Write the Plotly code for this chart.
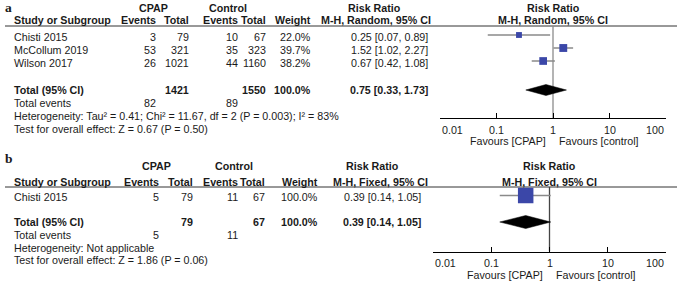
import math
import plotly.graph_objects as go

W, H = 677, 282

# ---------------- data: panel a ----------------
studies_a = ["Chisti 2015", "McCollum 2019", "Wilson 2017"]
cpap_events_a = [3, 53, 26]
cpap_total_a = [79, 321, 1021]
ctrl_events_a = [10, 35, 44]
ctrl_total_a = [67, 323, 1160]
weight_a = [22.0, 39.7, 38.2]
rr_a = [0.25, 1.52, 0.67]
lo_a = [0.07, 1.02, 0.42]
hi_a = [0.89, 2.27, 1.08]
sum_cpap_total_a, sum_ctrl_total_a = 1421, 1550
sum_cpap_events_a, sum_ctrl_events_a = 82, 89
total_weight_a = 100.0
pooled_a = [0.75, 0.33, 1.73]
method_a = "M-H, Random, 95% CI"
het_a = "Heterogeneity: Tau² = 0.41; Chi² = 11.67, df = 2 (P = 0.003); I² = 83%"
test_a = "Test for overall effect: Z = 0.67 (P = 0.50)"

# ---------------- data: panel b ----------------
studies_b = ["Chisti 2015"]
cpap_events_b = [5]
cpap_total_b = [79]
ctrl_events_b = [11]
ctrl_total_b = [67]
weight_b = [100.0]
rr_b = [0.39]
lo_b = [0.14]
hi_b = [1.05]
sum_cpap_total_b, sum_ctrl_total_b = 79, 67
sum_cpap_events_b, sum_ctrl_events_b = 5, 11
total_weight_b = 100.0
pooled_b = [0.39, 0.14, 1.05]
method_b = "M-H, Fixed, 95% CI"
het_b = "Heterogeneity: Not applicable"
test_b = "Test for overall effect: Z = 1.86 (P = 0.06)"

tick_vals = [0.01, 0.1, 1, 10, 100]
tick_text = ["0.01", "0.1", "1", "10", "100"]

FONT = "Liberation Sans, Arial, sans-serif"
FS = 10.7
TXT = "#1a1a1a"
BLUE = "#3b47a8"
GREY = "#8a8a8a"

fig = go.Figure()
annotations = []


def txt(x, y, s, anchor="left", bold=False, xref="x", size=FS, family=FONT, xshift=0):
    annotations.append(dict(
        x=x, y=y, xref=xref, yref="y", text=("<b>%s</b>" % s) if bold else s,
        showarrow=False, xanchor=anchor, yanchor="middle", xshift=xshift,
        font=dict(family=family, size=size, color=TXT)))


def fmt_ci(v):
    return "%.2f [%.2f, %.2f]" % (v[0], v[1], v[2])


def panel(idx, label, studies, ce, ct, ke, kt, wt, rr, lo, hi, sums, pooled,
          method, het, test, P, null_color, sq_k, dia_h):
    xa, ya = "x%d" % idx, "y%d" % idx
    # labels / headers
    txt(3, P["label_y"], label, bold=True, size=13.5, family="Liberation Serif, Times New Roman, serif")
    txt(P["cpap_c"], P["h1"], "CPAP", "center", True)
    txt(P["ctrl_c"], P["h1"], "Control", "center", True)
    txt(P["rr_c"], P["h1"], "Risk Ratio", "center", True)
    txt(0, P["h1"], "Risk Ratio", "center", True, xref=xa)
    txt(12, P["h2"], "Study or Subgroup", "left", True)
    txt(P["ev1"], P["h2"], "Events", "right", True)
    txt(P["tot1"], P["h2"], "Total", "right", True)
    txt(P["ev2"], P["h2"], "Events", "right", True)
    txt(P["tot2"], P["h2"], "Total", "right", True)
    txt(P["wt"], P["h2"], "Weight", "right", True)
    txt(P["mh"], P["h2"], method, "right", True)
    txt(0, P["h2"], method, "center", True, xref=xa)
    fig.add_trace(go.Scatter(x=[5, W], y=[P["line"], P["line"]], mode="lines",
                             line=dict(color="#333333", width=1), xaxis="x", yaxis="y",
                             hoverinfo="skip"))
    rows_y = [P["row0"] + i * P["rowh"] for i in range(len(studies))]
    for i, s in enumerate(studies):
        y = rows_y[i]
        txt(12, y, s)
        txt(P["ev1"], y, str(ce[i]), "right")
        txt(P["tot1"], y, str(ct[i]), "right")
        txt(P["ev2"], y, str(ke[i]), "right")
        txt(P["tot2"], y, str(kt[i]), "right")
        txt(P["wt"], y, "%.1f%%" % wt[i], "right")
        txt(P["ci"], y, fmt_ci([rr[i], lo[i], hi[i]]), "right")
    ty = P["total"]
    txt(12, ty, "Total (95% CI)", "left", True)
    txt(P["tot1"], ty, str(sums[0]), "right", True)
    txt(P["tot2"], ty, str(sums[1]), "right", True)
    txt(P["wt"], ty, "%.1f%%" % sums[4], "right", True)
    txt(P["ci"], ty, fmt_ci(pooled), "right", True)
    txt(12, P["events"], "Total events")
    txt(P["ev1"], P["events"], str(sums[2]), "right")
    txt(P["ev2"], P["events"], str(sums[3]), "right")
    txt(12, P["het"], het)
    txt(12, P["test"], test)
    # forest plot
    fig.add_trace(go.Scatter(x=[1, 1], y=[P["line"], P["axis"]], mode="lines",
                             line=dict(color=null_color, width=1.3), xaxis=xa, yaxis=ya,
                             hoverinfo="skip", cliponaxis=False))
    cx, cy = [], []
    for i in range(len(studies)):
        cx += [lo[i], hi[i], None]
        cy += [rows_y[i] - 1.5, rows_y[i] - 1.5, None]
    fig.add_trace(go.Scatter(x=cx, y=cy, mode="lines", line=dict(color=GREY, width=1.5),
                             xaxis=xa, yaxis=ya, hoverinfo="skip", cliponaxis=False))
    fig.add_trace(go.Scatter(x=rr, y=[r - 1.5 for r in rows_y], mode="markers",
                             marker=dict(symbol="square", color=BLUE, opacity=1,
                                         size=[sq_k * math.sqrt(w) for w in wt],
                                         line=dict(width=0)),
                             xaxis=xa, yaxis=ya, hoverinfo="skip", cliponaxis=False))
    dy = P["dia_y"]
    fig.add_trace(go.Scatter(x=[pooled[1], pooled[0], pooled[2], pooled[0], pooled[1]],
                             y=[dy, dy - dia_h, dy, dy + dia_h, dy], mode="lines",
                             fill="toself", fillcolor="black", line=dict(color="black", width=0.5),
                             xaxis=xa, yaxis=ya, hoverinfo="skip", cliponaxis=False))
    # tick labels
    for v, t in zip(tick_vals, tick_text):
        anchor = "left" if v == tick_vals[0] else ("right" if v == tick_vals[-1] else "center")
        txt(math.log10(v), P["ticklab"], t, anchor, xref=xa)
    txt(0, P["fav"], "Favours [CPAP]", "right", xref=xa, xshift=-5)
    txt(0, P["fav"], "Favours [control]", "left", xref=xa, xshift=4)
    axis_common = dict(type="log", range=[-2, 2], showgrid=False, zeroline=False,
                       showticklabels=False, ticks="inside", ticklen=5, tickwidth=1,
                       tickcolor="black", tickvals=tick_vals, showline=True,
                       linecolor="black", linewidth=1, fixedrange=True)
    fig.update_layout(**{
        "xaxis%d" % idx: dict(domain=[P["px0"] / W, P["px1"] / W], anchor=ya, **axis_common),
        "yaxis%d" % idx: dict(domain=[1 - P["axis"] / H, 1 - P["line"] / H],
                              range=[P["axis"], P["line"]], visible=False, anchor=xa,
                              fixedrange=True),
    })


PA = dict(label_y=7, h1=8, h2=20, line=26, row0=36.5, rowh=13, total=89.5, events=102.5,
          het=115.5, test=128.5, axis=118, ticklab=130, fav=141, dia_y=90,
          px0=440, px1=666, ev1=158, tot1=191, ev2=240, tot2=268, wt=313, ci=430, mh=433,
          cpap_c=153, ctrl_c=228, rr_c=374)
PB = dict(label_y=158, h1=166, h2=182, line=187, row0=197, rowh=13, total=222, events=235,
          het=247.5, test=260, axis=251.5, ticklab=263, fav=275, dia_y=222,
          px0=433, px1=666, ev1=161, tot1=195, ev2=240, tot2=267, wt=320, ci=423, mh=430,
          cpap_c=156, ctrl_c=234, rr_c=372)

panel(2, "a", studies_a, cpap_events_a, cpap_total_a, ctrl_events_a, ctrl_total_a, weight_a,
      rr_a, lo_a, hi_a,
      [sum_cpap_total_a, sum_ctrl_total_a, sum_cpap_events_a, sum_ctrl_events_a, total_weight_a],
      pooled_a, method_a, het_a, test_a, PA, "#8c8c8c", 1.25, 5.5)
panel(3, "b", studies_b, cpap_events_b, cpap_total_b, ctrl_events_b, ctrl_total_b, weight_b,
      rr_b, lo_b, hi_b,
      [sum_cpap_total_b, sum_ctrl_total_b, sum_cpap_events_b, sum_ctrl_events_b, total_weight_b],
      pooled_b, method_b, het_b, test_b, PB, "#444444", 1.55, 6.5)

fig.update_layout(
    width=W, height=H, margin=dict(l=0, r=0, t=0, b=0),
    paper_bgcolor="white", plot_bgcolor="rgba(0,0,0,0)", showlegend=False,
    xaxis=dict(range=[0, W], domain=[0, 1], visible=False, fixedrange=True),
    yaxis=dict(range=[H, 0], domain=[0, 1], visible=False, fixedrange=True),
    annotations=annotations,
)

fig.write_html("out.html", config={"displayModeBar": False},
               post_script="document.body.style.margin='0';document.body.style.overflow='hidden';")
